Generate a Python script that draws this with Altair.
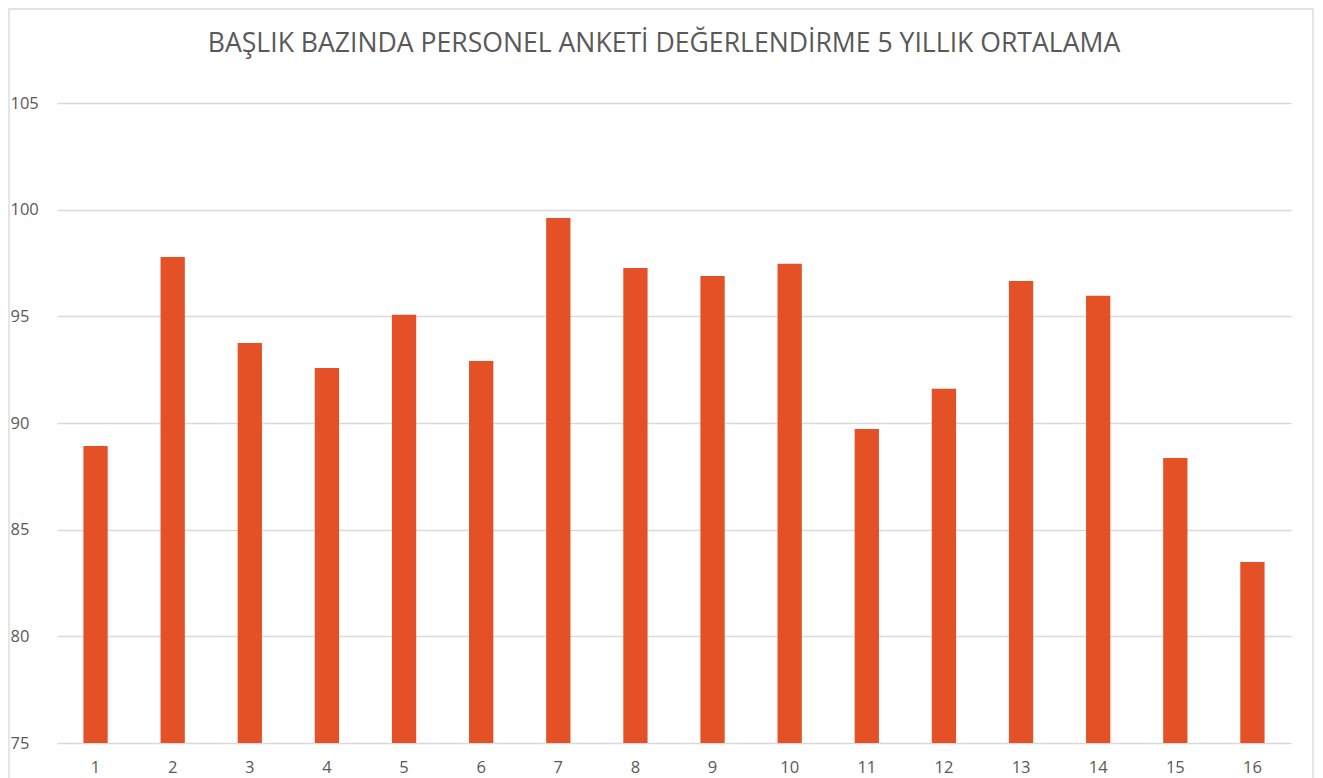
import altair as alt
import pandas as pd

categories = [str(i) for i in range(1, 17)]
values = [88.92, 97.78, 93.75, 92.58, 95.07, 92.91, 99.61, 97.27,
          96.89, 97.46, 89.72, 91.60, 96.66, 95.96, 88.36, 83.49]
title_text = "BAŞLIK BAZINDA PERSONEL ANKETİ DEĞERLENDİRME 5 YILLIK ORTALAMA"
y_ticks = [75, 80, 85, 90, 95, 100, 105]

df = pd.DataFrame({"cat": categories, "val": values})

W, H = 1234, 640
PAD = {"left": 49, "top": 95, "right": 24, "bottom": 35}
FONT = "Open Sans"
GREY = "#595959"

bars = alt.Chart(df).mark_bar(color="#E55126", clip=True).encode(
    x=alt.X("cat:N", sort=categories, title=None,
            scale=alt.Scale(paddingInner=0.685, paddingOuter=0.3425),
            axis=alt.Axis(labelAngle=0, ticks=False, tickSize=0, domain=False,
                          grid=False, labelFont=FONT, labelFontSize=16.5,
                          labelColor=GREY, labelPadding=16)),
    y=alt.Y("val:Q", title=None,
            scale=alt.Scale(domain=[75, 105], nice=False, zero=False),
            axis=alt.Axis(values=y_ticks, ticks=False, tickSize=0, domain=False,
                          grid=True, gridColor="#D9D9D9", gridWidth=1.3,
                          labelFont=FONT, labelFontSize=16.5, labelColor=GREY,
                          labelAlign="left", labelPadding=47,
                          labelBaseline="middle")),
)

frame = alt.Chart(pd.DataFrame({"a": [0]})).mark_rect(
    fill=None, stroke="#D9D9D9", strokeWidth=1.3
).encode(
    x=alt.value(-48), x2=alt.value(W + 22),
    y=alt.value(-94), y2=alt.value(H + 60),
)

title = alt.Chart(pd.DataFrame({"t": [title_text]})).mark_text(
    font=FONT, fontSize=26.6, color=GREY, align="center", baseline="middle"
).encode(
    text="t:N",
    x=alt.value(W / 2 - 10),
    y=alt.value(-59),
)

chart = alt.layer(frame, bars, title).properties(
    width=W, height=H,
    padding=PAD,
    autosize=alt.AutoSizeParams(type="none"),
).configure_view(stroke=None)

chart.save("out.html", embed_options={"renderer": "svg", "actions": False})
